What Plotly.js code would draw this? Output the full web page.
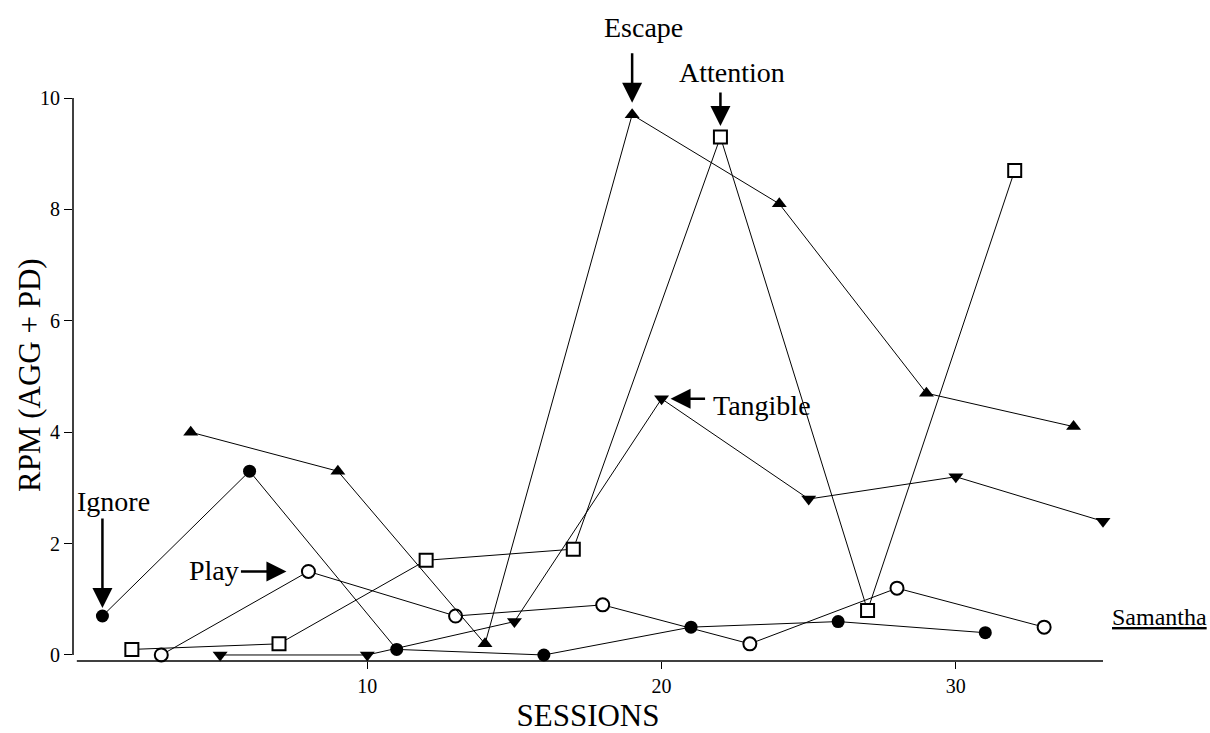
<!DOCTYPE html>
<html>
<head>
<meta charset="utf-8">
<script src="https://cdn.plot.ly/plotly-3.0.1.min.js"></script>
<style>html,body{margin:0;padding:0;background:#fff;}#chart{width:1210px;height:733px;}</style>
</head>
<body>
<div id="chart"></div>
<script>
// ---- data ----
var ignoreSessions = [1, 6, 11, 16, 21, 26, 31];
var ignoreRPM      = [0.7, 3.3, 0.1, 0, 0.5, 0.6, 0.4];

var playSessions = [3, 8, 13, 18, 23, 28, 33];
var playRPM      = [0, 1.5, 0.7, 0.9, 0.2, 1.2, 0.5];

var attentionSessions = [2, 7, 12, 17, 22, 27, 32];
var attentionRPM      = [0.1, 0.2, 1.7, 1.9, 9.3, 0.8, 8.7];

var escapeSessions = [4, 9, 14, 19, 24, 29, 34];
var escapeRPM      = [4.0, 3.3, 0.2, 9.7, 8.1, 4.7, 4.1];

var tangibleSessions = [5, 10, 15, 20, 25, 30, 35];
var tangibleRPM      = [0, 0, 0.6, 4.6, 2.8, 3.2, 2.4];

var xTickVals = [10, 20, 30];
var yTickVals = [0, 2, 4, 6, 8, 10];

// ---- styling ----
var FONT = "Liberation Serif, Times New Roman, serif";
var lineStyle = {color: "black", width: 1};

function series(name, xs, ys, symbol, fill, size) {
  return {
    type: "scatter", mode: "lines+markers", name: name,
    x: xs, y: ys, cliponaxis: false,
    line: lineStyle,
    marker: {symbol: symbol, size: size, color: fill, line: {color: "black", width: fill === "white" ? 2 : 0}}
  };
}

var traces = [
  series("Ignore", ignoreSessions, ignoreRPM, "circle", "black", 13),
  series("Play", playSessions, playRPM, "circle", "white", 13),
  series("Attention", attentionSessions, attentionRPM, "square", "white", 13),
  series("Escape", escapeSessions, escapeRPM, "triangle-up", "black", 13),
  series("Tangible", tangibleSessions, tangibleRPM, "triangle-down", "black", 13)
];

function arrow(xs, ys, i, ax, ay, standoff) {
  return {x: xs[i], y: ys[i], xref: "x", yref: "y", text: "", showarrow: true,
    ax: ax, ay: ay, arrowhead: 2, arrowsize: 1.6, arrowwidth: 2.5, arrowcolor: "black",
    standoff: standoff};
}
function label(text, x, y, xanchor, size, xref, yref) {
  return {x: x, y: y, xref: xref || "x", yref: yref || "y", text: text, showarrow: false,
    xanchor: xanchor, yanchor: "middle", font: {family: FONT, size: size || 28, color: "black"}};
}

var annotations = [
  arrow(ignoreSessions, ignoreRPM, 0, 0, -99, 8),
  label("Ignore", 1.36, 2.75, "center"),
  arrow(playSessions, playRPM, 1, -69, 0, 22),
  label("Play", 5.7, 1.52, "right"),
  arrow(escapeSessions, escapeRPM, 3, 0, -63, 12),
  label("Escape", 0.554, 1.126, "center", 28, "paper", "paper"),
  arrow(attentionSessions, attentionRPM, 4, 0, -46, 11),
  label("Attention", 0.640, 1.046, "center", 28, "paper", "paper"),
  arrow(tangibleSessions, tangibleRPM, 3, 45, 0, 9),
  label("Tangible", 21.68, 4.48, "left"),
  label("<u>Samantha</u>", 1.0553, 0.078, "center", 24, "paper", "paper"),
  {text: "RPM (AGG + PD)", xref: "paper", yref: "paper", x: -0.0417, y: 0.508,
   xanchor: "center", yanchor: "middle", textangle: -90, showarrow: false,
   font: {family: FONT, size: 31, color: "black"}}
];

var layout = {
  width: 1210, height: 733,
  margin: {l: 73, r: 107, t: 98, b: 72},
  paper_bgcolor: "white", plot_bgcolor: "white",
  showlegend: false,
  font: {family: FONT, color: "black"},
  xaxis: {
    range: [0, 35], showgrid: false, zeroline: false, showline: false,
    tickmode: "array", tickvals: xTickVals, ticks: "outside", ticklen: 7, tickwidth: 1, tickcolor: "black",
    tickfont: {family: FONT, size: 20, color: "black"},
    title: {text: "SESSIONS", font: {family: FONT, size: 31, color: "black"}, standoff: 9}
  },
  yaxis: {
    range: [-0.108, 10], showgrid: false, zeroline: false, showline: false,
    tickmode: "array", tickvals: yTickVals, ticks: "outside", ticklen: 8, tickwidth: 1, tickcolor: "black",
    tickfont: {family: FONT, size: 20, color: "black"}
  },
  shapes: [
    {type: "line", xref: "paper", x0: 0, x1: 0, yref: "y", y0: 0, y1: 10, line: {color: "black", width: 1.5}},
    {type: "line", xref: "x", x0: 0.13, x1: 35, yref: "paper", y0: 0, y1: 0, line: {color: "black", width: 1.5}}
  ],
  annotations: annotations
};

Plotly.newPlot("chart", traces, layout, {displayModeBar: false, staticPlot: true});
</script>
</body>
</html>
